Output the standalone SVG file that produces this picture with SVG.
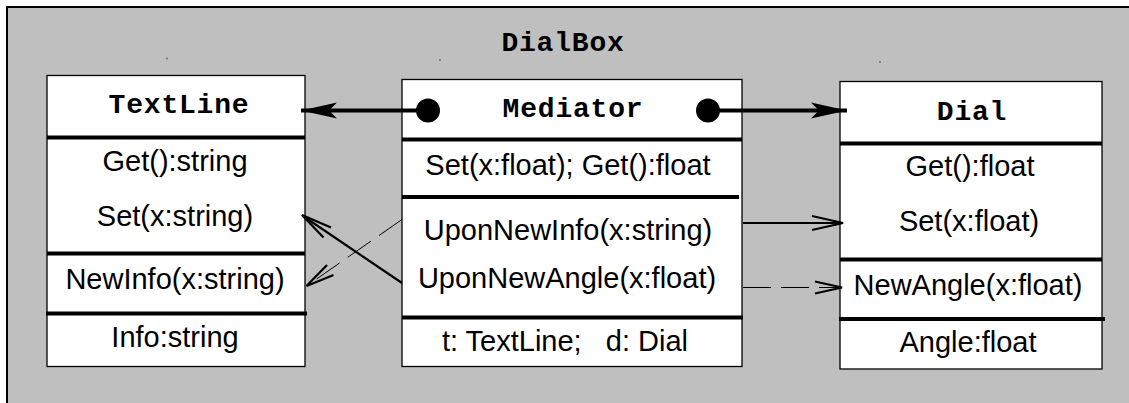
<svg xmlns="http://www.w3.org/2000/svg" width="1129" height="403" viewBox="0 0 1129 403">
<style>
.frame{fill:#bfbfbf;stroke:#000;stroke-width:2}
.box{fill:#fff;stroke:#000;stroke-width:1.3}
.sep{stroke:#000;stroke-width:4}
.hd{font-family:"Liberation Mono","Courier New",monospace;font-weight:bold;font-size:28px;letter-spacing:0.8px;text-anchor:middle;fill:#000}
.tx{font-family:"Liberation Sans",Arial,sans-serif;font-size:29px;text-anchor:middle;fill:#000}
.thick{stroke:#000;stroke-width:4;fill:none}
.solid{stroke:#000;stroke-width:2.2;fill:none}
.dash{stroke:#000;stroke-width:1;fill:none;stroke-dasharray:28 10}
.dot{fill:#000}
.spk{fill:#666}
</style>
<defs>
<marker id="dart" viewBox="0 0 40 20" refX="37" refY="10" markerWidth="40" markerHeight="20" markerUnits="userSpaceOnUse" orient="auto">
<path d="M37,10 L1,2 L9,10 L1,18 Z" fill="#000"/>
</marker>
</defs>
<rect class="frame" x="7" y="7" width="1135" height="410"/>
<text class="hd" x="563" y="51">DialBox</text>
<circle class="spk" cx="167" cy="58.5" r="0.9"/>
<circle class="spk" cx="440" cy="60" r="0.9"/>
<circle class="spk" cx="880" cy="62" r="0.9"/>

<g id="TextLine">
<rect class="box" x="47" y="75.5" width="258" height="291"/>
<line class="sep" x1="47" y1="137.5" x2="305" y2="137.5"/>
<line class="sep" x1="47" y1="253.5" x2="305" y2="253.5"/>
<line class="sep" x1="46" y1="313.5" x2="307" y2="313.5"/>
<text class="hd" x="179" y="113">TextLine</text>
<text class="tx" x="175" y="171">Get():string</text>
<text class="tx" x="175" y="226">Set(x:string)</text>
<text class="tx" x="175" y="289">NewInfo(x:string)</text>
<text class="tx" x="175" y="347">Info:string</text>
</g>

<g id="Mediator">
<rect class="box" x="402" y="79.5" width="340" height="287"/>
<line class="sep" x1="402" y1="139.5" x2="742" y2="139.5"/>
<line class="sep" x1="402" y1="197" x2="739" y2="197"/>
<line class="sep" x1="402" y1="317.5" x2="743" y2="317.5"/>
<text class="hd" x="573" y="117">Mediator</text>
<text class="tx" x="568" y="175">Set(x:float); Get():float</text>
<text class="tx" x="568" y="240">UponNewInfo(x:string)</text>
<text class="tx" x="567" y="288">UponNewAngle(x:float)</text>
<text class="tx" x="565" y="351" xml:space="preserve">t: TextLine;   d: Dial</text>
</g>

<g id="Dial">
<rect class="box" x="840" y="81.5" width="262" height="287.5"/>
<line class="sep" x1="840" y1="143.5" x2="1102" y2="143.5"/>
<line class="sep" x1="840" y1="259.5" x2="1102" y2="259.5"/>
<line class="sep" x1="839" y1="319" x2="1105" y2="319"/>
<text class="hd" x="972" y="120">Dial</text>
<text class="tx" x="970" y="176">Get():float</text>
<text class="tx" x="969" y="231">Set(x:float)</text>
<text class="tx" x="968" y="295">NewAngle(x:float)</text>
<text class="tx" x="968" y="352">Angle:float</text>
</g>

<g id="connectors">
<line class="thick" x1="428" y1="110.5" x2="301" y2="110.5" marker-end="url(#dart)"/>
<circle class="dot" cx="428" cy="110.5" r="12"/>
<line class="thick" x1="708" y1="110.5" x2="847" y2="110.5" marker-end="url(#dart)"/>
<circle class="dot" cx="708" cy="110.5" r="12"/>

<line class="solid" x1="743" y1="223" x2="842" y2="223"/>
<path class="solid" d="M812,216 L843,223 L812,230" stroke-width="2.6"/>

<line class="dash" x1="743" y1="287.5" x2="840" y2="287.5"/>
<path class="solid" d="M815,281.5 L842,287.5 L815,293.5" stroke-width="1.2"/>

<line class="solid" x1="402" y1="283" x2="303" y2="216" stroke-width="2.6"/>
<path class="solid" d="M331,227.5 L302,215 L323.5,237.5" stroke-width="2.8"/>

<line class="dash" x1="402" y1="219.5" x2="308" y2="285"/>
<path class="solid" d="M327,265 L306.5,286 L333.5,275" stroke-width="1.2"/>
</g>
</svg>
